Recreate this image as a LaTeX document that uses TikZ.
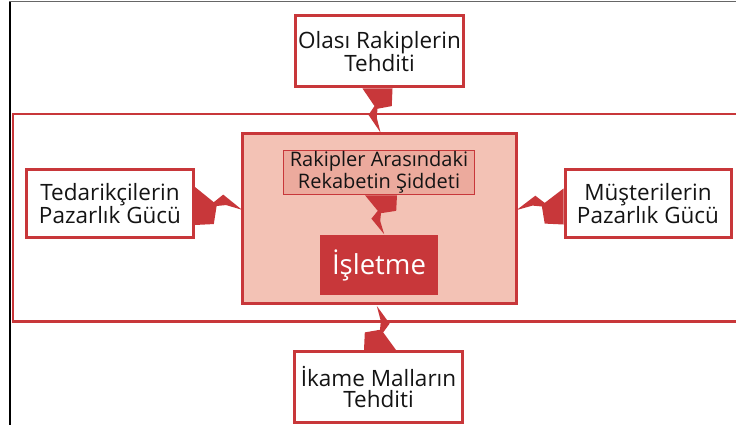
\documentclass[tikz,border=0pt]{standalone}
\usepackage{fontspec}
\setmainfont{Open Sans}
\definecolor{bred}{RGB}{200,55,58}
\definecolor{pinkfill}{RGB}{243,194,181}
\definecolor{pinkdark}{RGB}{236,170,157}
\definecolor{txt}{RGB}{20,20,20}
% lightning bolt outline in a local frame: x runs from the base (0) to the tip (1),
% y spans the half-width of the base (-1..1), the notch lies on the +y side
\newcommand\boltshape{(0,1) -- (0.4,0.2) -- (0.6,0.6) -- (1,-0.2) -- (0.66,0.05) -- (0.46,0) -- (0.4,-0.95) -- (0,-1) -- cycle}
\begin{document}
\begin{tikzpicture}[x=1pt,y=1pt,
  forcebox/.style={draw=bred, line width=3pt, fill=white, align=center, inner sep=0pt,
    text=txt, font=\fontsize{22.5}{21}\selectfont},
  bolt/.style={fill=bred, draw=none}]
\useasboundingbox (0,0) rectangle (736,-425);

% outer frame lines
\draw[black, line width=2.5pt] (10,-425) -- (10,-1.5);
\draw[black!60, line width=1.5pt] (9,-1.5) -- (736,-1.5);

% industry band
\draw[bred, line width=2.7pt] (736,-114) -- (13,-114) -- (13,-321.5) -- (736,-321.5);

% central rivalry box
\node[draw=bred, line width=3pt, fill=pinkfill, minimum width=274pt, minimum height=170pt,
  inner sep=0pt] (cen) at (379.5,-218.5) {};
\node[draw=bred, line width=1.5pt, fill=pinkdark, minimum width=191pt, minimum height=44pt,
  inner sep=0pt, align=center, text=txt, font=\fontsize{20}{21.5}\selectfont]
  (riv) at (379,-172.5) {Rakipler Arasındaki\\Rekabetin Şiddeti};
\node[fill=bred, minimum width=118pt, minimum height=60pt, inner sep=0pt, text=white,
  font=\fontsize{27.5}{27.5}\selectfont] (isl) at (379,-265) {İşletme};

% the four outer forces
\node[forcebox, minimum width=168pt, minimum height=71pt] (otb) at (379.5,-51.5)
  {Olası Rakiplerin\\Tehditi};
\node[forcebox, minimum width=167pt, minimum height=68pt] (ltb) at (110,-203.5)
  {Tedarikçilerin\\Pazarlık Gücü};
\node[forcebox, minimum width=166pt, minimum height=68pt] (rtb) at (648,-203.5)
  {Müşterilerin\\Pazarlık Gücü};
\node[forcebox, minimum width=168pt, minimum height=71pt] (itb) at (378.5,-387)
  {İkame Malların\\Tehditi};

% lightning connectors
\begin{scope}[shift={([xshift=-2pt]otb.south)}, x={(0pt,-44pt)}, y={(-15pt,0pt)}]
  \fill[bolt] \boltshape;
\end{scope}
\begin{scope}[shift={([xshift=2pt]riv.south)}, x={(0pt,-39pt)}, y={(-16pt,0pt)}]
  \fill[bolt] \boltshape;
\end{scope}
\begin{scope}[shift={([yshift=-2.5pt]ltb.east)}, x={(47pt,0pt)}, y={(0pt,19pt)}]
  \fill[bolt] \boltshape;
\end{scope}
\begin{scope}[shift={([yshift=-3pt]rtb.west)}, x={(-47pt,0pt)}, y={(0pt,18pt)}]
  \fill[bolt] \boltshape;
\end{scope}
\begin{scope}[shift={([xshift=1.5pt]itb.north)}, x={(0pt,44pt)}, y={(16pt,0pt)}]
  \fill[bolt] \boltshape;
\end{scope}
\end{tikzpicture}
\end{document}
